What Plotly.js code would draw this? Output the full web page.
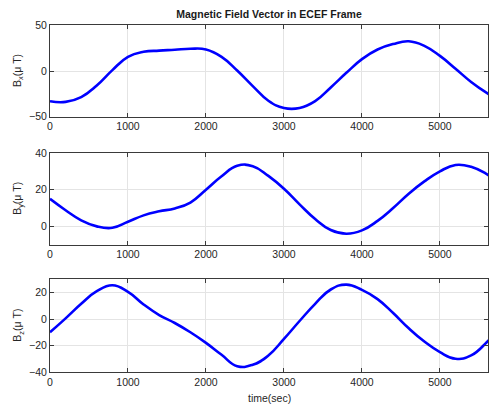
<!DOCTYPE html>
<html>
<head>
<meta charset="utf-8">
<script src="https://cdn.plot.ly/plotly-3.0.1.min.js"></script>
<style>
  html, body { margin: 0; padding: 0; background: #fff; }
  #chart { width: 489px; height: 408px; }
</style>
</head>
<body>
<div id="chart"></div>
<script>
// Sample times over one orbit (seconds); the last sample runs just past the axis end
const time = [0, 200, 400, 600, 800, 1000, 1200, 1400, 1600, 1800, 2000, 2200, 2400, 2600,
              2800, 3000, 3200, 3400, 3600, 3800, 4000, 4200, 4400, 4600, 4800, 5000, 5200,
              5400, 5600, 5700];

// Magnetic field components in the ECEF frame (micro-tesla)
const bx = [-33, -33.8, -28.5, -15.8, 1, 15.5, 21, 22.3, 23.2, 24.3, 23.5, 15.5, 0.5, -16.5,
            -32.5, -40.5, -40.5, -33, -18, -2, 13, 23.5, 29.5, 32.5, 27.5, 16.5, 2.5,
            -12, -24, -29];
const by = [15, 8.8, 3.3, 0, -0.8, 2.5, 6, 8.2, 9.8, 13, 20, 27.3, 33, 32.8,
            27.5, 20.5, 12, 4, -2, -4, -2.2, 3, 10, 17.8, 24.5, 30, 33.5,
            32.5, 28.5, 25.5];
const bz = [-10, 0.5, 11.5, 21, 25.5, 20.5, 11, 3, -3, -10, -18, -27, -35.6, -34.5,
            -27.5, -15, -1.5, 11.5, 22.3, 26, 22, 15, 4.5, -7, -17, -25, -30,
            -27.5, -17.5, -11];

// Tick labels
const xTicks = [0, 1000, 2000, 3000, 4000, 5000];
const yTicksX = [-50, 0, 50];
const yTicksY = [0, 20, 40];
const yTicksZ = [-40, -20, 0, 20];

const W = 489, H = 408;
const axisColor = '#3a3a3a';
const font = { family: 'Liberation Sans, Arial, sans-serif', size: 10.5, color: '#262626' };

function line(y, xa, ya) {
  return {
    x: time, y: y, xaxis: xa, yaxis: ya, type: 'scatter', mode: 'lines',
    line: { color: '#0000ff', width: 2.6, shape: 'spline', smoothing: 1.3 },
    hoverinfo: 'skip'
  };
}

const xDom = [50 / W, 488.3 / W];
function xAxis(anchor) {
  return {
    domain: xDom, anchor: anchor, range: [0, 5620], tickvals: xTicks,
    showgrid: true, gridcolor: '#e4e4e4', zeroline: false,
    showline: true, linecolor: axisColor, linewidth: 1, mirror: 'ticks',
    ticks: 'inside', ticklen: 4, tickcolor: axisColor, tickfont: font
  };
}
function yAxis(anchor, top, bottom, range, ticks) {
  return {
    domain: [1 - bottom / H, 1 - top / H], anchor: anchor, range: range, tickvals: ticks,
    showgrid: true, gridcolor: '#e4e4e4', zeroline: false,
    showline: true, linecolor: axisColor, linewidth: 1, mirror: 'ticks',
    ticks: 'inside', ticklen: 4, tickcolor: axisColor, tickfont: font
  };
}

const data = [line(bx, 'x', 'y'), line(by, 'x2', 'y2'), line(bz, 'x3', 'y3')];

function yLabel(sub, top, bottom) {
  return {
    text: 'B<sub>' + sub + '</sub>(\u03bc T)', textangle: -90,
    xref: 'paper', yref: 'paper', x: 18 / W, y: 1 - (top + bottom) / 2 / H,
    xanchor: 'center', yanchor: 'middle', showarrow: false, font: font
  };
}

const layout = {
  width: W, height: H,
  margin: { l: 0, r: 0, t: 0, b: 0 },
  paper_bgcolor: '#ffffff', plot_bgcolor: '#ffffff',
  showlegend: false,
  font: font,
  title: {
    text: '<b>Magnetic Field Vector in ECEF Frame</b>',
    x: 269 / W, xanchor: 'center', y: 1 - 14 / H, yanchor: 'middle',
    font: { family: font.family, size: 10.5, color: '#1a1a1a' }
  },
  xaxis: xAxis('y'),
  yaxis: yAxis('x', 25.3, 116.7, [-50, 50], yTicksX),
  xaxis2: xAxis('y2'),
  yaxis2: yAxis('x2', 153, 244.7, [-10, 40], yTicksY),
  xaxis3: xAxis('y3'),
  yaxis3: yAxis('x3', 279.3, 372, [-40, 30], yTicksZ),
  annotations: [
    yLabel('x', 25.3, 116.7),
    yLabel('y', 153, 244.7),
    yLabel('z', 279.3, 372),
    {
      text: 'time(sec)', xref: 'paper', yref: 'paper', x: 269 / W, y: 1 - 398 / H,
      xanchor: 'center', yanchor: 'middle', showarrow: false, font: font
    }
  ]
};

Plotly.newPlot('chart', data, layout, { staticPlot: true, displayModeBar: false });
</script>
</body>
</html>
